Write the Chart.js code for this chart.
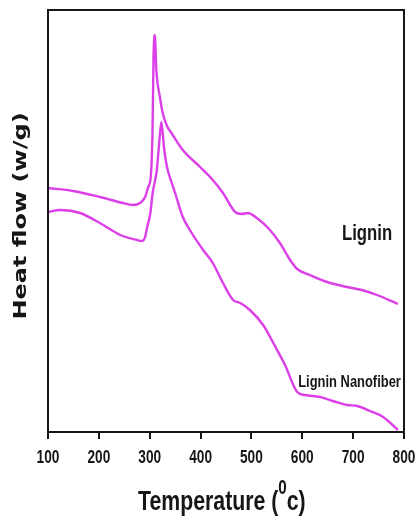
<!DOCTYPE html>
<html>
<head>
<meta charset="utf-8">
<script src="https://cdn.jsdelivr.net/npm/chart.js@4"></script>
<style>
  html, body { margin: 0; padding: 0; background: #fff; }
  #wrap { width: 416px; height: 518px; }
</style>
</head>
<body>
<div id="wrap"><canvas id="chart" width="416" height="518"></canvas></div>
<script>
// temperature (°C) and heat flow (arbitrary units)
const ligninT = [100, 149, 202, 247, 267, 281, 291, 297, 302, 305.5, 307.5, 310, 313, 320, 326, 334, 344, 365, 399, 424,
    444, 468, 481, 493, 513, 533, 556, 576, 590, 615, 649, 688, 717, 747, 788];
const ligninHF = [244, 241, 235, 229, 227, 229, 235, 245, 255, 300, 375, 397, 362, 335, 318, 306, 298, 282, 265, 252,
    239, 220, 218, 219, 213, 204, 189, 172, 163, 157, 150, 145, 142, 137, 128];

const nanoT = [100, 124, 163, 202, 242, 275, 285, 291, 295, 301, 306, 310, 314, 318, 323, 328, 334, 342, 350, 365,
    379, 405, 424, 444, 464, 478, 497, 523, 542, 566, 590, 605, 635, 660, 688, 708, 733, 759, 788];
const nanoHF = [220, 222, 219, 209, 197, 192, 191, 195, 205, 218, 240, 250, 262, 285, 310, 285, 265, 251, 239, 215,
    202, 182, 169, 149, 132, 129, 122, 107, 90, 67, 40, 37, 35, 31, 27, 26, 21, 15, 2];

const xTicks = [100, 200, 300, 400, 500, 600, 700, 800];
const seriesNames = ["Lignin", "Lignin Nanofiber"];
// where the series labels sit, in data units (left edge, baseline)
const labelPos = [[678, 192], [592, 45]];

const lineColor = "#dc3fe8";
const SQ = 0.76; // the picture is squeezed sideways

const toPoints = (xs, ys) => xs.map((x, i) => ({ x: x, y: ys[i] }));

function squeezed(ctx, text, x, y, font, align) {
    ctx.save();
    ctx.translate(x, y);
    ctx.scale(SQ, 1);
    ctx.font = font;
    ctx.textAlign = align;
    ctx.textBaseline = "alphabetic";
    ctx.fillText(text, 0, 0);
    ctx.restore();
}

const decor = {
    id: "decor",
    afterDraw(chart) {
        const ctx = chart.ctx,
            a = chart.chartArea,
            xs = chart.scales.x,
            ys = chart.scales.y;

        ctx.save();
        ctx.strokeStyle = "#161616";
        ctx.lineWidth = 2;
        ctx.strokeRect(a.left, a.top, a.right - a.left, a.bottom - a.top);

        ctx.fillStyle = "#161616";
        xTicks.forEach(t => {
            squeezed(ctx, String(t), xs.getPixelForValue(t), 463, "bold 18px 'Liberation Sans', Arial, sans-serif", "center");
        });

        // x title with raised 0
        const f1 = "bold 28px 'Liberation Sans', Arial, sans-serif",
            f2 = "bold 20px 'Liberation Sans', Arial, sans-serif";
        let px = 138;
        const part = (txt, font, y) => {
            squeezed(ctx, txt, px, y, font, "left");
            ctx.font = font;
            px += ctx.measureText(txt).width * SQ;
        };
        part("Temperature (", f1, 510);
        part("0", f2, 494);
        part("c)", f1, 510);

        // y title
        ctx.save();
        ctx.translate(26, 216);
        ctx.rotate(-Math.PI / 2);
        ctx.scale(1, SQ);
        ctx.font = "bold 24px 'DejaVu Sans', Verdana, sans-serif";
        ctx.textAlign = "center";
        ctx.textBaseline = "alphabetic";
        ctx.fillText("Heat flow (w/g)", 0, 0);
        ctx.restore();

        // series labels
        squeezed(ctx, seriesNames[0], xs.getPixelForValue(labelPos[0][0]), ys.getPixelForValue(labelPos[0][1]),
            "bold 22px 'Liberation Sans', Arial, sans-serif", "left");
        squeezed(ctx, seriesNames[1], xs.getPixelForValue(labelPos[1][0]), ys.getPixelForValue(labelPos[1][1]),
            "bold 17px 'Liberation Sans', Arial, sans-serif", "left");
        ctx.restore();
    }
};

new Chart(document.getElementById("chart").getContext("2d"), {
    type: "line",
    data: {
        datasets: [
            {
                label: seriesNames[0],
                data: toPoints(ligninT, ligninHF),
                borderColor: lineColor,
                borderWidth: 2.4,
                pointRadius: 0,
                cubicInterpolationMode: "monotone",
                fill: false
            },
            {
                label: seriesNames[1],
                data: toPoints(nanoT, nanoHF),
                borderColor: lineColor,
                borderWidth: 2.4,
                pointRadius: 0,
                cubicInterpolationMode: "monotone",
                fill: false
            }
        ]
    },
    options: {
        responsive: false,
        animation: false,
        layout: { padding: { top: 10, right: 12, left: 0, bottom: 0 } },
        plugins: {
            legend: { display: false },
            tooltip: { enabled: false }
        },
        scales: {
            x: {
                type: "linear",
                min: 100,
                max: 800,
                ticks: { display: false, stepSize: 100 },
                grid: { drawOnChartArea: false, drawTicks: true, tickLength: 7, color: "#161616", lineWidth: 2 },
                border: { display: false },
                afterFit: s => { s.height = 86; s.paddingLeft = 0; s.paddingRight = 0; }
            },
            y: {
                min: 0,
                max: 422,
                ticks: { display: false },
                grid: { display: false },
                border: { display: false },
                afterFit: s => { s.width = 48; s.paddingTop = 0; s.paddingBottom = 0; }
            }
        }
    },
    plugins: [decor]
});
</script>
</body>
</html>
